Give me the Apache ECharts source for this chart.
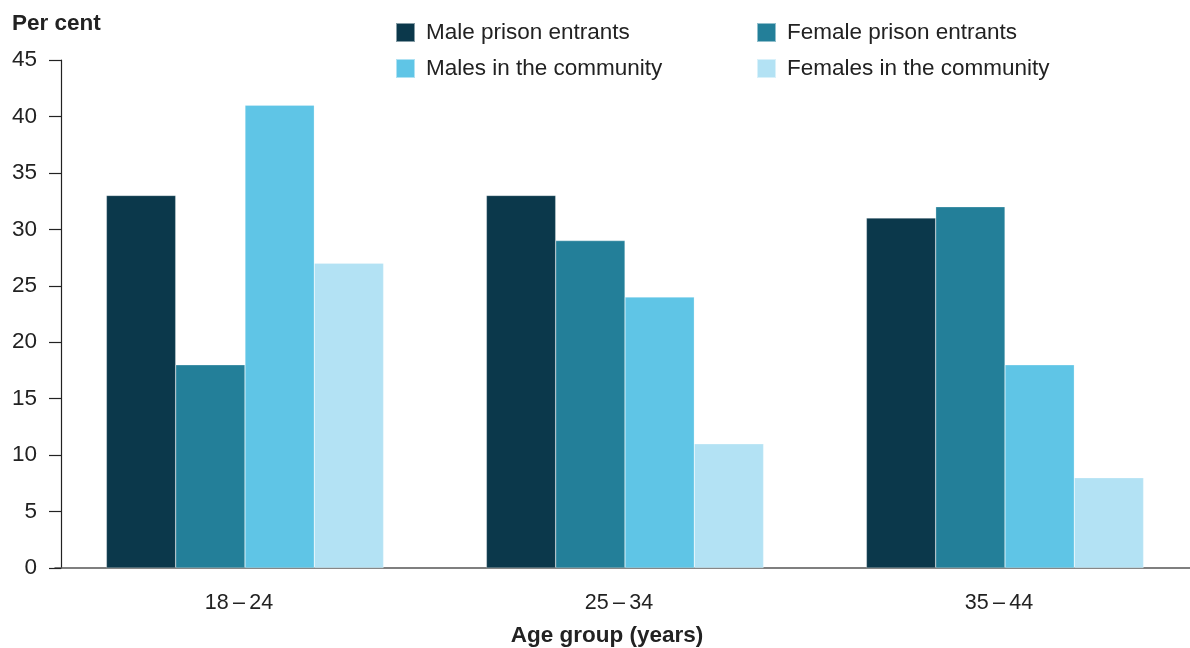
<!DOCTYPE html>
<html>
<head>
<meta charset="utf-8">
<script src="https://cdn.jsdelivr.net/npm/echarts@6/dist/echarts.min.js"></script>
<style>html,body{margin:0;padding:0;background:#fff;}#c{width:1190px;height:648px;}</style>
</head>
<body>
<div id="c"></div>
<script>
const categories = ['18\u2009\u2013\u200924', '25\u2009\u2013\u200934', '35\u2009\u2013\u200944'];
const malePrison = [33, 33, 31];
const femalePrison = [18, 29, 32];
const maleCommunity = [41, 24, 18];
const femaleCommunity = [27, 11, 8];
const seriesNames = ['Male prison entrants', 'Female prison entrants', 'Males in the community', 'Females in the community'];
const colors = ['#0b384b', '#237f99', '#5fc5e6', '#b3e2f4'];

const font = 'Liberation Sans, Arial, sans-serif';
const chart = echarts.init(document.getElementById('c'));
const values = [malePrison, femalePrison, maleCommunity, femaleCommunity];
const legendText = {fontFamily: font, fontSize: 22.5, color: '#222', padding: [0, 0, 0, 6]};
chart.setOption({
  animation: false,
  textStyle: {fontFamily: font},
  grid: {left: 55, right: -5, top: 60, bottom: 80, outerBoundsMode: 'none', containLabel: false},
  legend: [
    {data: [seriesNames[0], seriesNames[2]], orient: 'vertical', left: 390, top: 16, itemWidth: 19, itemHeight: 19, itemGap: 13, icon: 'rect', textStyle: legendText},
    {data: [seriesNames[1], seriesNames[3]], orient: 'vertical', left: 751, top: 16, itemWidth: 19, itemHeight: 19, itemGap: 13, icon: 'rect', textStyle: legendText}
  ],
  graphic: [{type: 'text', left: 12, top: 12, style: {text: 'Per cent', fontFamily: font, fontSize: 22.5, fontWeight: 'bold', fill: '#222'}}],
  xAxis: {
    type: 'category', data: categories,
    name: 'Age group (years)', nameLocation: 'middle', nameGap: 56,
    nameTextStyle: {fontFamily: font, fontSize: 22.5, fontWeight: 'bold', color: '#222', padding: [0, 36, 0, 0]},
    axisLine: {lineStyle: {color: '#555', width: 1.5}},
    axisTick: {show: false},
    axisLabel: {fontFamily: font, fontSize: 21.5, color: '#222', margin: 24, padding: [0, 12, 0, 0]}
  },
  yAxis: {
    type: 'value', min: 0, max: 45, interval: 5, offset: -6,
    splitLine: {show: false},
    axisLine: {show: true, lineStyle: {color: '#222', width: 1.2}},
    axisTick: {show: true, length: 12, lineStyle: {color: '#222', width: 1.2}},
    axisLabel: {fontFamily: font, fontSize: 22.5, color: '#222', margin: 24}
  },
  series: seriesNames.map((n, i) => ({
    name: n, type: 'bar', data: values[i], barWidth: 69.3, barGap: '0%',
    itemStyle: {color: colors[i], borderColor: 'rgba(255,255,255,0.5)', borderWidth: 0.5}
  }))
});
</script>
</body>
</html>
